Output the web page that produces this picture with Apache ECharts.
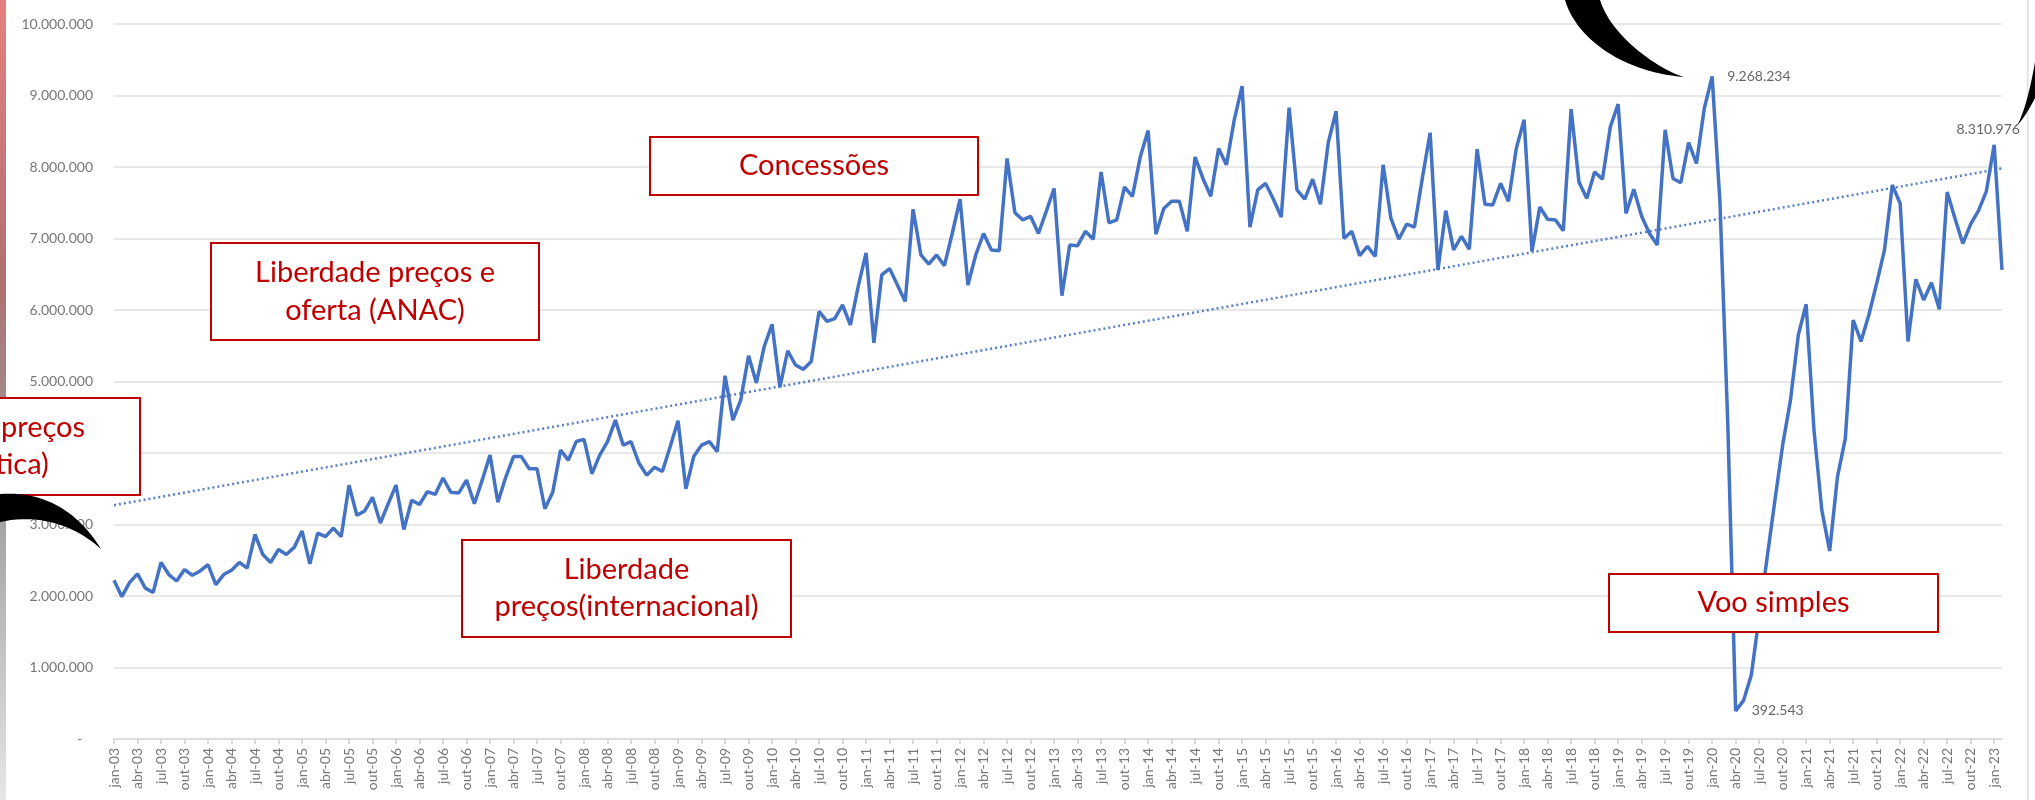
<!DOCTYPE html>
<html>
<head>
<meta charset="utf-8">
<script src="https://cdn.jsdelivr.net/npm/echarts@6/dist/echarts.min.js"></script>
<style>html,body{margin:0;padding:0;background:#fff}#c{width:2035px;height:800px}</style>
</head>
<body>
<div id="c"></div>
<script>
// ---- data ----
const monthNames = ['jan','fev','mar','abr','mai','jun','jul','ago','set','out','nov','dez'];
const yearSuffixes = ['03','04','05','06','07','08','09','10','11','12','13','14','15','16','17','18','19','20','21','22','23'];

const y2003 = [2220000,1990000,2190000,2310000,2110000,2050000,2470000,2300000,2210000,2370000,2290000,2350000];
const y2004 = [2440000,2160000,2300000,2360000,2470000,2390000,2860000,2580000,2470000,2650000,2580000,2680000];
const y2005 = [2910000,2450000,2880000,2830000,2950000,2830000,3550000,3130000,3190000,3380000,3020000,3290000];
const y2006 = [3550000,2930000,3340000,3280000,3460000,3420000,3650000,3450000,3440000,3620000,3290000,3620000];
const y2007 = [3970000,3310000,3660000,3950000,3950000,3780000,3780000,3220000,3450000,4040000,3900000,4160000];
const y2008 = [4190000,3710000,3970000,4160000,4460000,4110000,4160000,3860000,3690000,3800000,3740000,4090000];
const y2009 = [4450000,3500000,3950000,4110000,4160000,4020000,5080000,4460000,4740000,5360000,4980000,5490000];
const y2010 = [5800000,4920000,5430000,5230000,5170000,5280000,5980000,5840000,5880000,6070000,5790000,6330000];
const y2011 = [6800000,5540000,6490000,6580000,6350000,6120000,7410000,6770000,6640000,6770000,6620000,7070000];
const y2012 = [7550000,6350000,6770000,7070000,6840000,6830000,8120000,7360000,7260000,7310000,7070000,7380000];
const y2013 = [7700000,6200000,6910000,6900000,7100000,6990000,7930000,7220000,7260000,7720000,7590000,8140000];
const y2014 = [8510000,7060000,7420000,7520000,7520000,7100000,8140000,7840000,7590000,8260000,8030000,8660000];
const y2015 = [9130000,7160000,7680000,7770000,7550000,7300000,8830000,7680000,7550000,7830000,7480000,8340000];
const y2016 = [8780000,7000000,7100000,6760000,6890000,6750000,8030000,7280000,6990000,7200000,7160000,7840000];
const y2017 = [8480000,6560000,7390000,6840000,7030000,6850000,8250000,7480000,7470000,7770000,7520000,8260000];
const y2018 = [8660000,6820000,7440000,7270000,7260000,7110000,8810000,7790000,7560000,7930000,7830000,8560000];
const y2019 = [8880000,7350000,7690000,7310000,7070000,6910000,8520000,7840000,7780000,8340000,8050000,8820000];
const y2020 = [9268234,7500000,4400000,392543,536000,895000,1710000,2520000,3330000,4110000,4740000,5650000];
const y2021 = [6080000,4320000,3200000,2630000,3670000,4200000,5860000,5560000,5930000,6370000,6840000,7750000];
const y2022 = [7490000,5560000,6430000,6140000,6380000,6010000,7650000,7280000,6930000,7200000,7390000,7660000];
const y2023 = [8310976,6560000];

const trendStart = 3270000;   // dotted linear trend, first month
const trendEnd = 7980000;     // dotted linear trend, last month
const labeledPoints = ['jan-20','abr-20','jan-23'];
const yMin = 0, yMax = 10000000, yInterval = 1000000;

// ---- build ----
const values = [].concat(y2003,y2004,y2005,y2006,y2007,y2008,y2009,y2010,y2011,y2012,y2013,
  y2014,y2015,y2016,y2017,y2018,y2019,y2020,y2021,y2022,y2023);
const categories = [];
outer: for (const yy of yearSuffixes) {
  for (const m of monthNames) {
    if (categories.length >= values.length) break outer;
    categories.push(m + '-' + yy);
  }
}
function fmt(v){ return String(Math.round(v)).replace(/\B(?=(\d{3})+(?!\d))/g, '.'); }

const labelPos = {'jan-20':{position:'right',distance:15}, 'abr-20':{position:'right',distance:16}, 'jan-23':{position:'top',distance:8,offset:[-6,0]}};
const seriesData = values.map((v,i) => {
  const c = categories[i];
  if (labeledPoints.indexOf(c) >= 0) {
    return {value:v, label:Object.assign({show:true, color:'#666', fontSize:14, fontFamily:'Lato',
      formatter: p => fmt(p.value)}, labelPos[c])};
  }
  return v;
});

const red = '#C00000';
function box(x,y,w,h,text,lh){
  return [
    {type:'rect', z:100, shape:{x:x,y:y,width:w,height:h}, style:{fill:'#fff', stroke:red, lineWidth:2}},
    {type:'text', z:101, x:x+w/2, y:y+h/2, style:{text:text, fill:red, fontSize:29, fontFamily:'Lato',
      align:'center', verticalAlign:'middle', lineHeight:lh||38}}
  ];
}
// decorative black crescents: sampled cubic bezier outlines
function bez(p0,p1,p2,p3,n){
  const out=[];
  for(let i=0;i<=n;i++){const t=i/n,u=1-t;
    out.push([u*u*u*p0[0]+3*u*u*t*p1[0]+3*u*t*t*p2[0]+t*t*t*p3[0],
              u*u*u*p0[1]+3*u*u*t*p1[1]+3*u*t*t*p2[1]+t*t*t*p3[1]]);}
  return out;
}
function crescent(a,b){ return {type:'polygon', z:110, shape:{points:a.concat(b)}, style:{fill:'#000'}}; }

const chart = echarts.init(document.getElementById('c'), null, {renderer:'canvas'});
chart.setOption({
  animation:false,
  backgroundColor:'#fff',
  grid:{left:114, right:33, top:24, bottom:61, containLabel:false},
  xAxis:{
    type:'category', data:categories, boundaryGap:false,
    axisLine:{lineStyle:{color:'#d9d9d9', width:1.5}},
    axisTick:{show:true, interval:2, length:5, lineStyle:{color:'#d0d0d0', width:1.5}},
    axisLabel:{interval:2, rotate:90, margin:9, color:'#777', fontSize:14, fontFamily:'Lato'},
    splitLine:{show:false}
  },
  yAxis:{
    type:'value', min:yMin, max:yMax, interval:yInterval,
    axisLine:{show:false}, axisTick:{show:false},
    axisLabel:{margin:21, color:'#777', fontSize:14, fontFamily:'Lato',
      formatter: v => v === 0 ? '-   ' : fmt(v)},
    splitLine:{lineStyle:{color:'#e0e0e0', width:1.5}}
  },
  series:[{
    type:'line', data:seriesData, showSymbol:true, showAllSymbol:true, symbol:'circle', symbolSize:0,
    lineStyle:{color:'#4472C4', width:3.5}, itemStyle:{color:'#4472C4'},
    emphasis:{disabled:true}, silent:true, z:2,
    markLine:{silent:true, symbol:['none','none'], label:{show:false},
      lineStyle:{color:'#4472C4', width:2.5, type:[2,3], opacity:0.9},
      emphasis:{disabled:true},
      data:[[{coord:[categories[0], trendStart]}, {coord:[categories[categories.length-1], trendEnd]}]]}
  }],
  graphic:[].concat(
    box(-187,398,327,97,'Liberdade preços\n(doméstica)',37),
    box(211,243,328,97,'Liberdade preços e\noferta (ANAC)',38),
    box(650,137,328,58,'Concessões'),
    box(462,540,329,97,'Liberdade\npreços(internacional)',37),
    box(1609,574,329,58,'Voo simples'),
    [
      {type:'rect', z:90, shape:{x:0,y:0,width:6,height:800},
        style:{fill:new echarts.graphic.LinearGradient(0,0,0,1,[
          {offset:0,color:'#e58080'},{offset:0.35,color:'#b07070'},{offset:0.6,color:'#9a9a9a'},{offset:1,color:'#e6e6e6'}])}},
      {type:'rect', z:90, shape:{x:2027,y:0,width:1.5,height:800}, style:{fill:'#dedede'}},
      crescent(bez([0,494],[40,491],[76,508],[101,549],24), bez([101,549],[80,530],[45,512],[0,522],24)),
      crescent(bez([1565,0],[1576,38],[1622,72],[1684,77],30), bez([1684,77],[1660,70],[1612,38],[1600,0],30)),
      crescent(bez([2017,126],[2025,110],[2030,90],[2035,62],14), bez([2035,98],[2029,110],[2023,119],[2017,126],14))
    ]
  )
});
</script>
</body>
</html>
